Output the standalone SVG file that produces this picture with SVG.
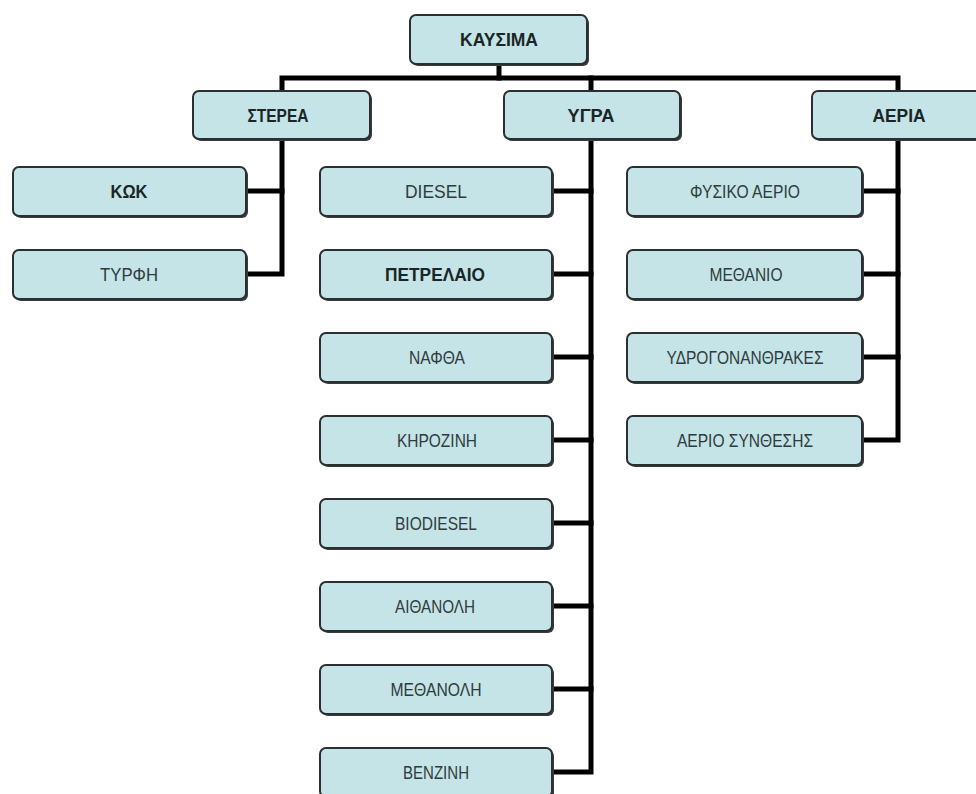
<svg xmlns="http://www.w3.org/2000/svg" width="976" height="794" viewBox="0 0 976 794">
<style>
  .box{fill:#c4e4e7;stroke:#2b2f30;stroke-width:2}
  .sh{fill:#3a3d3e}
  .t{font-family:"Liberation Sans","DejaVu Sans",sans-serif;font-size:18px;text-anchor:middle;fill:#2f3b3c}
  .tb{font-family:"Liberation Sans","DejaVu Sans",sans-serif;font-size:19px;font-weight:bold;text-anchor:middle;fill:#1b2526}
  .c{fill:none;stroke:#000;stroke-width:5;stroke-linejoin:miter;stroke-linecap:square}
</style>
<rect width="976" height="794" fill="#ffffff"/>
<g id="connectors">
  <path class="c" d="M499,64 V78"/>
  <path class="c" d="M282,91 V78 H898 V91"/>
  <path class="c" d="M591,78 V91"/>
  <path class="c" d="M282,139 V274 H248"/>
  <path class="c" d="M282,191 H248"/>
  <path class="c" d="M591,140 V772 H554"/>
  <path class="c" d="M591,191 H554 M591,274 H554 M591,357 H554 M591,440 H554 M591,523 H554 M591,606 H554 M591,689 H554"/>
  <path class="c" d="M898,139 V440 H864"/>
  <path class="c" d="M898,191 H864 M898,274 H864 M898,357 H864"/>
</g>
<g id="kausima"><rect class="sh" x="412" y="17" width="177" height="49" rx="6"/><rect class="box" x="410" y="15" width="177" height="49" rx="6"/><text class="tb" x="499" y="46" textLength="78" lengthAdjust="spacingAndGlyphs">ΚΑΥΣΙΜΑ</text></g>
<g id="sterea"><rect class="sh" x="195" y="93" width="177" height="48" rx="6"/><rect class="box" x="193" y="91" width="177" height="48" rx="6"/><text class="tb" x="278" y="122" textLength="61" lengthAdjust="spacingAndGlyphs">ΣΤΕΡΕΑ</text></g>
<g id="ygra"><rect class="sh" x="506" y="93" width="176" height="48" rx="6"/><rect class="box" x="504" y="91" width="176" height="48" rx="6"/><text class="tb" x="591" y="122" textLength="47" lengthAdjust="spacingAndGlyphs">ΥΓΡΑ</text></g>
<g id="aeria"><rect class="sh" x="814" y="93" width="172" height="48" rx="6"/><rect class="box" x="812" y="91" width="172" height="48" rx="6"/><text class="tb" x="899" y="122" textLength="53" lengthAdjust="spacingAndGlyphs">ΑΕΡΙΑ</text></g>

<g id="kok"><rect class="sh" x="15" y="169" width="233" height="49" rx="6"/><rect class="box" x="13" y="167" width="233" height="49" rx="6"/><text class="tb" x="129" y="198" textLength="37" lengthAdjust="spacingAndGlyphs">ΚΩΚ</text></g>
<g id="tyrfi"><rect class="sh" x="15" y="252" width="233" height="49" rx="6"/><rect class="box" x="13" y="250" width="233" height="49" rx="6"/><text class="t" x="129" y="281" textLength="58" lengthAdjust="spacingAndGlyphs">ΤΥΡΦΗ</text></g>

<g id="diesel"><rect class="sh" x="322" y="169" width="232" height="49" rx="6"/><rect class="box" x="320" y="167" width="232" height="49" rx="6"/><text class="t" x="436" y="198" textLength="62" lengthAdjust="spacingAndGlyphs">DIESEL</text></g>
<g id="petrelaio"><rect class="sh" x="322" y="252" width="232" height="49" rx="6"/><rect class="box" x="320" y="250" width="232" height="49" rx="6"/><text class="tb" x="435" y="281" textLength="100" lengthAdjust="spacingAndGlyphs">ΠΕΤΡΕΛΑΙΟ</text></g>
<g id="nafta"><rect class="sh" x="322" y="335" width="232" height="49" rx="6"/><rect class="box" x="320" y="333" width="232" height="49" rx="6"/><text class="t" x="437" y="364" textLength="56" lengthAdjust="spacingAndGlyphs">ΝΑΦΘΑ</text></g>
<g id="kirozini"><rect class="sh" x="322" y="418" width="232" height="49" rx="6"/><rect class="box" x="320" y="416" width="232" height="49" rx="6"/><text class="t" x="437" y="447" textLength="80" lengthAdjust="spacingAndGlyphs">ΚΗΡΟΖΙΝΗ</text></g>
<g id="biodiesel"><rect class="sh" x="322" y="501" width="232" height="49" rx="6"/><rect class="box" x="320" y="499" width="232" height="49" rx="6"/><text class="t" x="436" y="530" textLength="82" lengthAdjust="spacingAndGlyphs">BIODIESEL</text></g>
<g id="aithanoli"><rect class="sh" x="322" y="584" width="232" height="49" rx="6"/><rect class="box" x="320" y="582" width="232" height="49" rx="6"/><text class="t" x="435" y="613" textLength="80" lengthAdjust="spacingAndGlyphs">ΑΙΘΑΝΟΛΗ</text></g>
<g id="methanoli"><rect class="sh" x="322" y="667" width="232" height="49" rx="6"/><rect class="box" x="320" y="665" width="232" height="49" rx="6"/><text class="t" x="436" y="696" textLength="91" lengthAdjust="spacingAndGlyphs">ΜΕΘΑΝΟΛΗ</text></g>
<g id="venzini"><rect class="sh" x="322" y="750" width="232" height="49" rx="6"/><rect class="box" x="320" y="748" width="232" height="49" rx="6"/><text class="t" x="436" y="779" textLength="66" lengthAdjust="spacingAndGlyphs">ΒΕΝΖΙΝΗ</text></g>

<g id="fysiko-aerio"><rect class="sh" x="629" y="169" width="235" height="49" rx="6"/><rect class="box" x="627" y="167" width="235" height="49" rx="6"/><text class="t" x="745" y="198" textLength="110" lengthAdjust="spacingAndGlyphs">ΦΥΣΙΚΟ ΑΕΡΙΟ</text></g>
<g id="methanio"><rect class="sh" x="629" y="252" width="235" height="49" rx="6"/><rect class="box" x="627" y="250" width="235" height="49" rx="6"/><text class="t" x="746" y="281" textLength="73" lengthAdjust="spacingAndGlyphs">ΜΕΘΑΝΙΟ</text></g>
<g id="ydrogonanthrakes"><rect class="sh" x="629" y="335" width="235" height="49" rx="6"/><rect class="box" x="627" y="333" width="235" height="49" rx="6"/><text class="t" x="745" y="364" textLength="157" lengthAdjust="spacingAndGlyphs">ΥΔΡΟΓΟΝΑΝΘΡΑΚΕΣ</text></g>
<g id="aerio-synthesis"><rect class="sh" x="629" y="418" width="235" height="49" rx="6"/><rect class="box" x="627" y="416" width="235" height="49" rx="6"/><text class="t" x="745" y="447" textLength="136" lengthAdjust="spacingAndGlyphs">ΑΕΡΙΟ ΣΥΝΘΕΣΗΣ</text></g>
</svg>
